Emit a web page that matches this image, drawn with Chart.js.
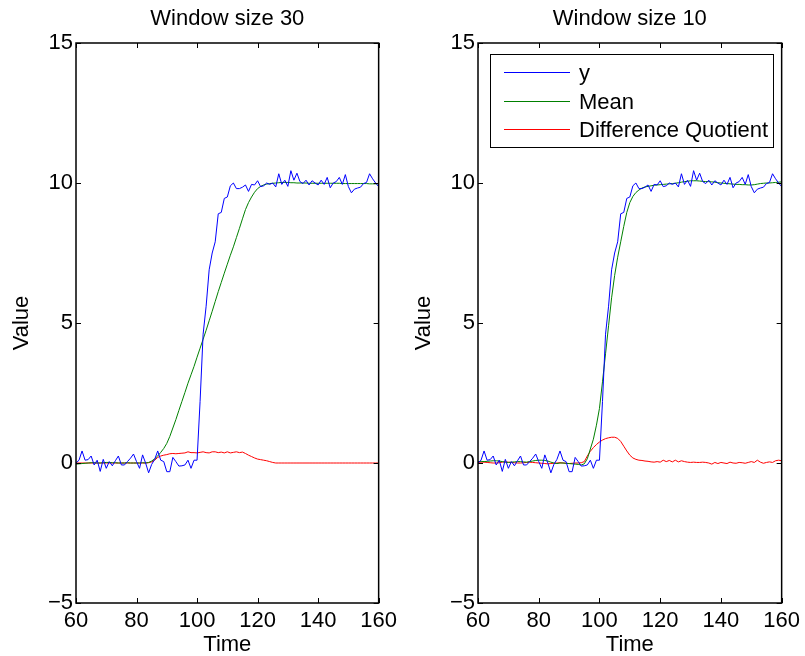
<!DOCTYPE html>
<html>
<head>
<meta charset="utf-8">
<title>Window size 30 / Window size 10</title>
<script src="https://cdn.jsdelivr.net/npm/chart.js@4.4.0/dist/chart.umd.min.js"></script>
<style>
  html, body { margin: 0; padding: 0; background: #fff; }
  #wrap { position: relative; width: 805px; height: 656px; }
  .panel { position: absolute; top: 0; height: 656px; }
  #left { left: 0; width: 402px; }
  #right { left: 402px; width: 403px; }
</style>
</head>
<body>
<div id="wrap">
  <div class="panel" id="left"><canvas id="chart30" width="402" height="656"></canvas></div>
  <div class="panel" id="right"><canvas id="chart10" width="403" height="656"></canvas></div>
</div>
<script>
// --- data ---
const time = [];
for (let t = 60; t <= 160; t++) time.push(t);

const xTicks = [60, 80, 100, 120, 140, 160];
const yTicks = [-5, 0, 5, 10, 15];

const seriesNames = ['y', 'Mean', 'Difference Quotient'];
const seriesColors = ['#0000ff', '#008000', '#ff0000'];

// measured signal (same in both panels)
const y = [
  0.0, 0.1, 0.43, 0.1, 0.12, 0.25, -0.07, 0.1, -0.3, 0.13,
  -0.19, 0.05, -0.1, 0.08, 0.25, -0.07, -0.07, 0.05, 0.17, 0.32,
  0.05, -0.19, 0.29, 0.0, -0.35, -0.05, 0.13, 0.43, 0.1, 0.05,
  -0.31, -0.31, 0.2, 0.05, -0.11, -0.1, -0.07, 0.1, -0.19, 0.1,
  0.1,
  2.2, 4.6, 5.6, 6.9, 7.5, 7.9, 8.9, 8.95, 9.45, 9.5,
  9.9, 10.0, 9.8, 9.8, 9.85, 9.93, 9.7, 9.95, 9.93, 10.08,
  9.87, 9.9, 10.0, 9.95, 10.0, 9.86, 10.33, 9.95, 10.1, 9.88,
  10.44, 10.1, 10.35, 10.05, 9.98, 10.1, 9.93, 10.08, 10.0, 9.93,
  10.1, 9.95, 10.2, 9.83, 10.0, 10.05, 10.2, 9.95, 10.3, 9.87,
  9.65, 9.78, 9.82, 9.85, 9.98, 10.02, 10.33, 10.15, 10.0, 9.87
];

// window size 30
const mean30 = [
  -0.04, -0.03, -0.02, -0.01, 0.0, 0.01, 0.01, 0.0, 0.0, 0.01,
  0.02, 0.02, 0.01, 0.01, 0.0, 0.0, 0.0, 0.01, 0.0, 0.0,
  0.0, 0.0, 0.01, 0.0, 0.02, 0.07, 0.15, 0.25, 0.38, 0.52,
  0.7, 0.95, 1.25, 1.55, 1.88, 2.2, 2.52, 2.85, 3.15, 3.45,
  3.78, 4.1, 4.42, 4.74, 5.08, 5.42, 5.77, 6.12, 6.45, 6.78,
  7.1, 7.42, 7.72, 8.05, 8.38, 8.72, 9.05, 9.3, 9.5, 9.67,
  9.8, 9.88, 9.93, 9.96, 9.98, 9.99, 10.0, 10.01, 10.02, 10.02,
  10.02, 10.01, 10.01, 10.0, 10.0, 10.0, 10.0, 9.99, 9.99, 9.99,
  9.99, 9.99, 9.99, 9.99, 9.99, 9.99, 9.99, 9.99, 9.98, 9.98,
  9.98, 9.98, 9.98, 9.98, 9.98, 9.98, 9.98, 9.97, 9.97, 9.97, 9.97
];
const diff30 = [
  0, 0, 0, 0, 0, 0, 0, 0, 0, 0,
  0, 0, 0, 0, 0, 0, 0, 0, 0, 0,
  0, 0, 0, 0, 0.01, 0.04, 0.1, 0.2, 0.25, 0.28,
  0.3, 0.33, 0.34, 0.33, 0.34, 0.35, 0.36, 0.4, 0.37, 0.37,
  0.36, 0.38, 0.4, 0.37, 0.36, 0.4, 0.4, 0.37, 0.39, 0.36,
  0.4, 0.36, 0.38, 0.4, 0.37, 0.39, 0.34, 0.28, 0.23, 0.18,
  0.14, 0.12, 0.1, 0.08, 0.05, 0.02, 0, 0, 0, 0,
  0, 0, 0, 0, 0, 0, 0, 0, 0, 0,
  0, 0, 0, 0, 0, 0, 0, 0, 0, 0,
  0, 0, 0, 0, 0, 0, 0, 0, 0, 0, 0
];

// window size 10
const mean10 = [
  0.05, 0.06, 0.05, 0.06, 0.07, 0.08, 0.08, 0.07, 0.05, 0.03,
  0.02, 0.03, 0.04, 0.05, 0.05, 0.04, 0.03, 0.05, 0.07, 0.09,
  0.1, 0.1, 0.09, 0.07, 0.03, 0.0, -0.02, 0.0, 0.0, -0.01,
  -0.02, -0.03, -0.04, -0.05, -0.07, -0.03, 0.15, 0.5, 0.85, 1.35,
  1.95, 2.9, 3.9, 4.9, 5.9, 6.7, 7.35, 7.9, 8.45, 8.95,
  9.3, 9.52, 9.66, 9.75, 9.82, 9.86, 9.88, 9.9, 9.92, 9.93,
  9.94, 9.95, 9.96, 9.97, 9.98, 9.99, 10.01, 10.03, 10.05, 10.06,
  10.08, 10.08, 10.08, 10.07, 10.06, 10.05, 10.05, 10.04, 10.03, 10.01,
  10.0, 9.99, 9.98, 9.97, 9.96, 9.95, 9.95, 9.94, 9.94, 9.93,
  9.93, 9.94, 9.96, 9.98, 9.99, 10.0, 10.0, 10.01, 10.02, 10.03, 10.04
];
const diff10 = [
  0.02, 0.03, 0.03, 0.02, 0.01, 0.0, 0.0, 0.01, 0.03, 0.04,
  0.03, 0.02, 0.01, 0.0, 0.0, 0.01, 0.02, 0.03, 0.02, 0.01,
  0.0, -0.01, -0.02, -0.03, -0.02, -0.01, 0.0, 0.01, 0.0, -0.01,
  -0.02, -0.01, 0.0, 0.0, 0.01, 0.05, 0.25, 0.42, 0.55, 0.66,
  0.75, 0.82, 0.87, 0.9, 0.92, 0.92, 0.88, 0.77, 0.6, 0.43,
  0.28, 0.18, 0.13, 0.1, 0.09, 0.07, 0.06, 0.04, 0.03, 0.05,
  0.03, 0.1, 0.05, 0.09, 0.04, 0.1, 0.04, 0.08, 0.05, 0.03,
  0.02, 0.03, 0.02, 0.02, 0.03, 0.02, 0.0, -0.04, 0.02, -0.02,
  0.02, 0.0, -0.02, 0.03, 0.0, -0.01, 0.02, 0.01, -0.01, 0.02,
  0.05, 0.02, 0.1, 0.03, -0.01, 0.02, 0.04, 0.02, 0.08, 0.1, 0.08
];

const FONT = '"Liberation Sans", Arial, Helvetica, sans-serif';
const FONT_SIZE = 22;

// matlab style box, inward ticks, panel title and legend
const axesPlugin = {
  id: 'matlabAxes',
  afterDraw(chart, args, opts) {
    const { ctx, chartArea: a, scales } = chart;
    ctx.save();

    // inward tick marks on all four sides
    ctx.strokeStyle = '#000';
    ctx.lineWidth = 1;
    ctx.beginPath();
    scales.x.ticks.forEach(t => {
      const px = Math.round(scales.x.getPixelForValue(t.value)) + 0.5;
      ctx.moveTo(px, a.bottom); ctx.lineTo(px, a.bottom - 5);
      ctx.moveTo(px, a.top); ctx.lineTo(px, a.top + 5);
    });
    scales.y.ticks.forEach(t => {
      const py = Math.round(scales.y.getPixelForValue(t.value)) + 0.5;
      ctx.moveTo(a.left, py); ctx.lineTo(a.left + 5, py);
      ctx.moveTo(a.right, py); ctx.lineTo(a.right - 5, py);
    });
    ctx.stroke();

    // axes box
    ctx.lineWidth = 1.5;
    ctx.strokeRect(a.left, a.top, a.right - a.left, a.bottom - a.top);

    // title
    ctx.fillStyle = '#000';
    ctx.font = FONT_SIZE + 'px ' + FONT;
    ctx.textAlign = 'center';
    ctx.textBaseline = 'middle';
    ctx.fillText(opts.title, (a.left + a.right) / 2, 19);

    // legend box in the top right corner
    if (opts.legend) {
      let textW = 0;
      seriesNames.forEach(n => { textW = Math.max(textW, ctx.measureText(n).width); });
      const w = Math.round(89 + textW + 5);
      const left = Math.round(a.right - 9 - w);
      const top = Math.round(a.top + 11);
      ctx.fillStyle = '#fff';
      ctx.fillRect(left, top, w, 93);
      ctx.lineWidth = 1;
      ctx.strokeStyle = '#000';
      ctx.strokeRect(left + 0.5, top + 0.5, w, 93);
      const rows = [18, 47, 75];
      ctx.textAlign = 'left';
      for (let i = 0; i < seriesNames.length; i++) {
        const ry = top + rows[i] + 0.5;
        ctx.beginPath();
        ctx.strokeStyle = seriesColors[i];
        ctx.moveTo(left + 14, ry);
        ctx.lineTo(left + 80, ry);
        ctx.stroke();
        ctx.fillStyle = '#000';
        ctx.fillText(seriesNames[i], left + 89, ry + 1);
      }
    }
    ctx.restore();
  }
};

function makeChart(id, title, meanValues, diffValues, showLegend, padRight) {
  const ctx = document.getElementById(id).getContext('2d');
  const values = [y, meanValues, diffValues];
  return new Chart(ctx, {
    type: 'line',
    data: {
      labels: time,
      datasets: seriesNames.map((name, i) => ({
        label: name,
        data: values[i],
        borderColor: seriesColors[i]
      }))
    },
    options: {
      responsive: false,
      animation: false,
      devicePixelRatio: 1,
      elements: {
        point: { radius: 0 },
        line: { borderWidth: 1, tension: 0 }
      },
      layout: { padding: { top: 43, right: padRight, bottom: 0, left: 0 } },
      plugins: {
        legend: { display: false },
        tooltip: { enabled: false },
        matlabAxes: { title: title, legend: showLegend }
      },
      scales: {
        x: {
          type: 'linear',
          min: 60,
          max: 160,
          afterBuildTicks: scale => { scale.ticks = xTicks.map(v => ({ value: v })); },
          afterFit: scale => { scale.height = 53; },
          grid: { display: false, drawTicks: false },
          border: { display: false },
          ticks: {
            color: '#000',
            padding: 5,
            maxRotation: 0,
            font: { family: FONT, size: FONT_SIZE }
          },
          title: {
            display: true,
            text: 'Time',
            color: '#000',
            padding: { top: 0, bottom: 0 },
            font: { family: FONT, size: FONT_SIZE, lineHeight: 1 }
          }
        },
        y: {
          min: -5,
          max: 15,
          afterBuildTicks: scale => { scale.ticks = yTicks.map(v => ({ value: v })); },
          afterFit: scale => { scale.width = 76; },
          grid: { display: false, drawTicks: false },
          border: { display: false },
          ticks: {
            color: '#000',
            padding: 3,
            font: { family: FONT, size: FONT_SIZE },
            callback: v => String(v).replace('-', '\u2212')
          },
          title: {
            display: true,
            text: 'Value',
            color: '#000',
            padding: { top: 11, bottom: 0 },
            font: { family: FONT, size: FONT_SIZE, lineHeight: 1 }
          }
        }
      }
    },
    plugins: [axesPlugin]
  });
}

makeChart('chart30', 'Window size 30', mean30, diff30, false, 23);
makeChart('chart10', 'Window size 10', mean10, diff10, true, 22);
</script>
</body>
</html>
